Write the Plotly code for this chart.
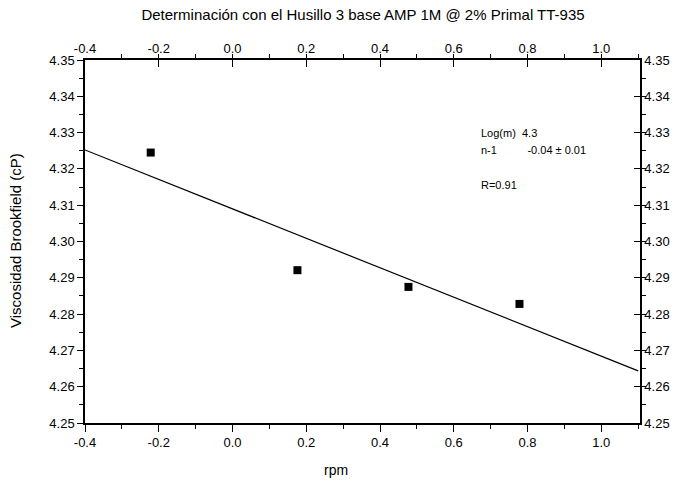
import numpy as np
import plotly.graph_objects as go

# Rotational speeds (rpm) and measured viscosity, both as log10
rpm = [0.6, 1.5, 3.0, 6.0]
log_rpm = np.log10(rpm)
log_visc = [4.3245, 4.2921, 4.2875, 4.2828]

x_range = [-0.4, 1.105]
y_range = [4.25, 4.35]
x_ticks = [-0.4, -0.2, 0.0, 0.2, 0.4, 0.6, 0.8, 1.0]
y_ticks = [4.25, 4.26, 4.27, 4.28, 4.29, 4.30, 4.31, 4.32, 4.33, 4.34, 4.35]

# Reported fit parameters
fit_labels = ["Log(m)  4.3", "n-1          -0.04 ± 0.01", "R=0.91"]

# Linear fit (power-law model in log form)
slope, intercept = np.polyfit(log_rpm, log_visc, 1)
fit_x = np.array([-0.4, 1.1])
fit_y = intercept + slope * fit_x

FONT = "Liberation Sans, Arial, sans-serif"
W, H = 685, 482
M = dict(l=85, r=45, t=60, b=59)

fig = go.Figure()
fig.add_trace(go.Scatter(x=fit_x, y=fit_y, mode="lines",
                         line=dict(color="black", width=1.2), showlegend=False))
fig.add_trace(go.Scatter(x=log_rpm, y=log_visc, mode="markers",
                         marker=dict(symbol="square", size=8, color="black"),
                         showlegend=False))
# invisible trace so the mirrored top/right axes are rendered
fig.add_trace(go.Scatter(x=[x_range[0]], y=[y_range[0]], xaxis="x2", yaxis="y2",
                         mode="markers", marker=dict(opacity=0), showlegend=False,
                         hoverinfo="skip"))

tick_font = dict(family=FONT, size=13, color="black")
common_x = dict(range=x_range, tickvals=x_ticks, ticktext=[f"{v:.1f}" for v in x_ticks],
                showgrid=False, zeroline=False, showline=True, linecolor="black",
                linewidth=1.5, ticklen=7, tickwidth=1.2, tickcolor="black",
                tickfont=tick_font, automargin=False,
                minor=dict(dtick=0.1, tick0=0, ticklen=4, tickwidth=1, tickcolor="black"))
common_y = dict(range=y_range, tickvals=y_ticks, ticktext=[f"{v:.2f}" for v in y_ticks],
                showgrid=False, zeroline=False, showline=True, linecolor="black",
                linewidth=1.5, ticklen=6, tickwidth=1.2, tickcolor="black",
                tickfont=tick_font, automargin=False,
                minor=dict(dtick=0.005, tick0=4.25, ticklen=4, tickwidth=1, tickcolor="black"))

fig.update_layout(
    width=W, height=H,
    margin=M,
    paper_bgcolor="white", plot_bgcolor="white",
    font=dict(family=FONT, color="black"),
    title=dict(text="Determinación con el Husillo 3 base AMP 1M @ 2% Primal TT-935",
               x=0.53, xanchor="center", y=0.98, yanchor="top",
               font=dict(family=FONT, size=15, color="black")),
    xaxis=dict(**common_x, ticks="outside", side="bottom"),
    yaxis=dict(**common_y, ticks="outside", side="left"),
    xaxis2=dict(**common_x, ticks="inside", side="top", overlaying="x", matches="x"),
    yaxis2=dict(**common_y, ticks="inside", side="right", overlaying="y", matches="y"),
)

# axis titles placed in pixel-accurate paper positions
pw = W - M["l"] - M["r"]
ph = H - M["t"] - M["b"]
fig.add_annotation(text="rpm", xref="paper", yref="paper",
                   x=(336 - M["l"]) / pw, y=-(470 - (H - M["b"])) / ph,
                   xanchor="center", yanchor="middle", showarrow=False,
                   font=dict(family=FONT, size=14, color="black"))
fig.add_annotation(text="Viscosidad Brookfield (cP)", xref="paper", yref="paper",
                   x=-(M["l"] - 15) / pw, y=(H - M["b"] - 241) / ph, textangle=-90,
                   xanchor="center", yanchor="middle", showarrow=False,
                   font=dict(family=FONT, size=15, color="black"))

ann_font = dict(family=FONT, size=11, color="black")
for text, yv in zip(fit_labels, [4.3300, 4.3252, 4.3155]):
    fig.add_annotation(x=0.668, y=yv, xref="x", yref="y", xanchor="left", yanchor="middle",
                       showarrow=False, font=ann_font, text=text)

fig.write_html("out.html")
